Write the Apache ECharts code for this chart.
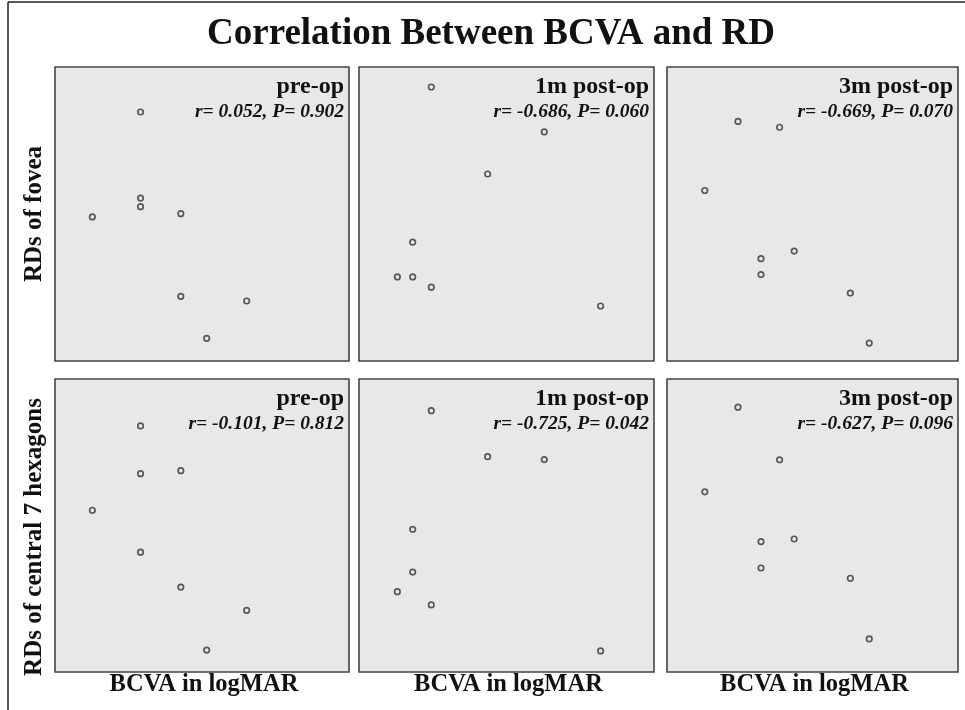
<!DOCTYPE html>
<html>
<head>
<meta charset="utf-8">
<script src="https://cdn.jsdelivr.net/npm/echarts@6/dist/echarts.min.js"></script>
<style>html,body{margin:0;padding:0;background:#fff;}#main{width:965px;height:710px;}</style>
</head>
<body>
<div id="main"></div>
<script>
// ---- data (normalised axis units) ----
const mainTitle = 'Correlation Between BCVA and RD';
const timepoints = ['pre-op', '1m post-op', '3m post-op'];
const rowLabels = ['RDs of fovea', 'RDs of central 7 hexagons'];
const xLabel = 'BCVA in logMAR';
const statsRow1 = ['r= 0.052, P= 0.902', 'r= -0.686, P= 0.060', 'r= -0.669, P= 0.070'];
const statsRow2 = ['r= -0.101, P= 0.812', 'r= -0.725, P= 0.042', 'r= -0.627, P= 0.096'];

// Row 1: RDs of fovea
const xFoveaPre = [0.291, 0.291, 0.291, 0.127, 0.428, 0.428, 0.652, 0.516];
const yFoveaPre = [0.847, 0.554, 0.525, 0.490, 0.501, 0.220, 0.204, 0.077];
const xFovea1m  = [0.245, 0.628, 0.436, 0.182, 0.130, 0.182, 0.245, 0.819];
const yFovea1m  = [0.932, 0.779, 0.636, 0.404, 0.286, 0.286, 0.251, 0.187];
const xFovea3m  = [0.244, 0.387, 0.130, 0.437, 0.323, 0.323, 0.630, 0.695];
const yFovea3m  = [0.815, 0.795, 0.580, 0.374, 0.348, 0.294, 0.231, 0.061];
// Row 2: RDs of central 7 hexagons
const xHexPre = [0.291, 0.291, 0.428, 0.127, 0.291, 0.428, 0.652, 0.516];
const yHexPre = [0.840, 0.677, 0.687, 0.552, 0.409, 0.290, 0.210, 0.075];
const xHex1m  = [0.245, 0.436, 0.628, 0.182, 0.182, 0.130, 0.245, 0.819];
const yHex1m  = [0.892, 0.735, 0.725, 0.487, 0.341, 0.274, 0.229, 0.072];
const xHex3m  = [0.244, 0.387, 0.130, 0.437, 0.323, 0.323, 0.630, 0.695];
const yHex3m  = [0.904, 0.724, 0.615, 0.454, 0.445, 0.355, 0.320, 0.113];

const panelData = [
  [xFoveaPre, yFoveaPre], [xFovea1m, yFovea1m], [xFovea3m, yFovea3m],
  [xHexPre, yHexPre], [xHex1m, yHex1m], [xHex3m, yHex3m]
];

// ---- layout ----
const colLeft = [55, 359, 667];
const colWidth = [294, 295, 291];
const rowTop = [67, 379];
const rowHeight = [294, 293];
const serif = "'Liberation Serif', 'Times New Roman', serif";

const grids = [], xAxes = [], yAxes = [], series = [], graphics = [];
for (let r = 0; r < 2; r++) {
  for (let c = 0; c < 3; c++) {
    const i = r * 3 + c;
    grids.push({
      left: colLeft[c], top: rowTop[r], width: colWidth[c], height: rowHeight[r],
      show: true, backgroundColor: '#e8e8e8', borderColor: '#444', borderWidth: 1.6
    });
    xAxes.push({ type: 'value', gridIndex: i, min: 0, max: 1, show: false });
    yAxes.push({ type: 'value', gridIndex: i, min: 0, max: 1, show: false });
    const xs = panelData[i][0], ys = panelData[i][1];
    series.push({
      type: 'scatter', xAxisIndex: i, yAxisIndex: i,
      data: xs.map((v, k) => [v, ys[k]]),
      symbol: 'circle', symbolSize: 5.5,
      itemStyle: { color: 'rgba(0,0,0,0)', borderColor: '#333', borderWidth: 1.7 },
      silent: true, animation: false
    });
    const rightX = colLeft[c] + colWidth[c] - 5;
    graphics.push({
      type: 'text', x: rightX, y: rowTop[r] + 19.5,
      style: { text: timepoints[c], fill: '#111', font: "bold 24px " + serif, textAlign: 'right', textVerticalAlign: 'middle' }
    });
    graphics.push({
      type: 'text', x: rightX, y: rowTop[r] + 45,
      style: { text: (r === 0 ? statsRow1 : statsRow2)[c], fill: '#111', font: "italic bold 19.5px " + serif, textAlign: 'right', textVerticalAlign: 'middle' }
    });
    if (r === 1) {
      graphics.push({
        type: 'text', x: colLeft[c] + colWidth[c] / 2 + 2, y: 685,
        style: { text: xLabel, fill: '#111', font: "bold 24.5px " + serif, textAlign: 'center', textVerticalAlign: 'middle' }
      });
    }
  }
  graphics.push({
    type: 'text', x: 35, y: r === 0 ? 214 : 537, rotation: Math.PI / 2,
    style: { text: rowLabels[r], fill: '#111', font: "bold 25px " + serif, textAlign: 'center', textVerticalAlign: 'middle' }
  });
}
graphics.push({
  type: 'text', x: 491, y: 34.5,
  style: { text: mainTitle, fill: '#111', font: "bold 37px " + serif, textAlign: 'center', textVerticalAlign: 'middle' }
});
// outer frame (left and top edges)
graphics.push({ type: 'line', shape: { x1: 8, y1: 2, x2: 8, y2: 710 }, style: { stroke: '#222', lineWidth: 1.5 } });
graphics.push({ type: 'line', shape: { x1: 8, y1: 2, x2: 965, y2: 2 }, style: { stroke: '#222', lineWidth: 1.5 } });

const chart = echarts.init(document.getElementById('main'), null, { renderer: 'canvas' });
chart.setOption({
  backgroundColor: '#ffffff',
  animation: false,
  grid: grids, xAxis: xAxes, yAxis: yAxes, series: series, graphic: graphics
});
</script>
</body>
</html>
